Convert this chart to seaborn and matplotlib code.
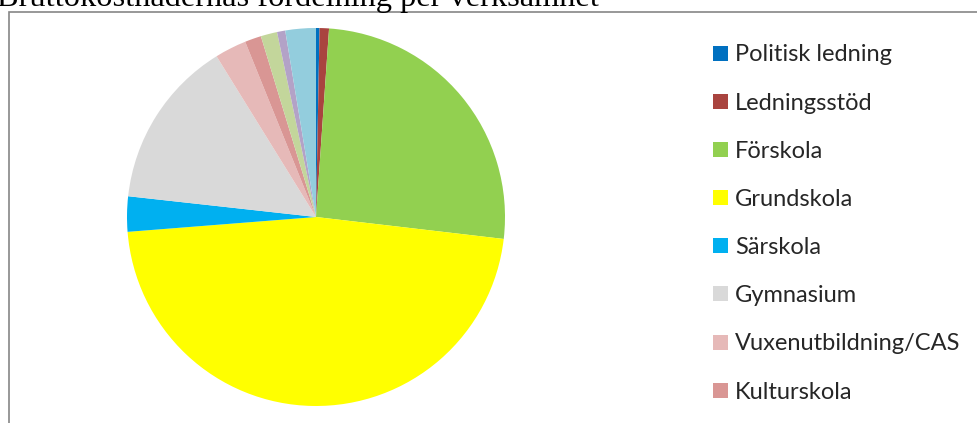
import matplotlib
matplotlib.use('Agg')
import matplotlib.pyplot as plt
import seaborn as sns
from matplotlib.patches import Rectangle

# data (share of gross cost, %)
categories = ["Politisk ledning", "Ledningsstöd", "Förskola", "Grundskola",
              "Särskola", "Gymnasium", "Vuxenutbildning/CAS", "Kulturskola",
              "Fritidsgård", "Bibliotek", "Övrig verksamhet"]
shares = [0.3, 0.8, 25.7, 46.8, 3.0, 14.4, 2.7, 1.4, 1.4, 0.7, 2.6]
colors = ["#0070C0", "#A9443F", "#92D050", "#FFFF00", "#00B0F0", "#D9D9D9",
          "#E6B9B8", "#D99694", "#C3D69B", "#B3A2C7", "#93CDDD"]
title = "Bruttokostnadernas fördelning per verksamhet"

sns.set_theme(style="white")
plt.rcParams["font.family"] = ["Lato", "DejaVu Sans"]

W, H = 978, 423
fig = plt.figure(figsize=(W / 100, H / 100), dpi=100)

# chart frame (cut off on right and bottom in the reference)
fig.add_artist(Rectangle((9 / W, -0.1), 1.2, 1 - 12 / H + 0.1,
                         transform=fig.transFigure, fill=False,
                         edgecolor="#868686", linewidth=1.2))

# title sits mostly above the visible area, as in the reference
fig.text(-3 / W, 1 - 6 / H, title, family="Liberation Serif", fontsize=23.3,
         va="baseline", ha="left", color="black")

cx, cy, r = 316, H - 217, 189
ax = fig.add_axes([(cx - r) / W, (cy - r) / H, 2 * r / W, 2 * r / H])
wedges, _ = ax.pie(shares, colors=colors, startangle=90, counterclock=False,
                   wedgeprops=dict(linewidth=0))
ax.set_xlim(-1, 1)
ax.set_ylim(-1, 1)
ax.set_aspect("equal")
ax.axis("off")

# legend runs past the bottom edge, so only the first eight entries show
fig.legend(wedges, categories, loc="upper left",
           bbox_to_anchor=(704 / W, 1 - 35 / H), frameon=False,
           fontsize=17, handlelength=0.6, handleheight=0.6,
           handletextpad=0.32, labelspacing=1.15, borderaxespad=0)

fig.savefig("out.png", dpi=100)
